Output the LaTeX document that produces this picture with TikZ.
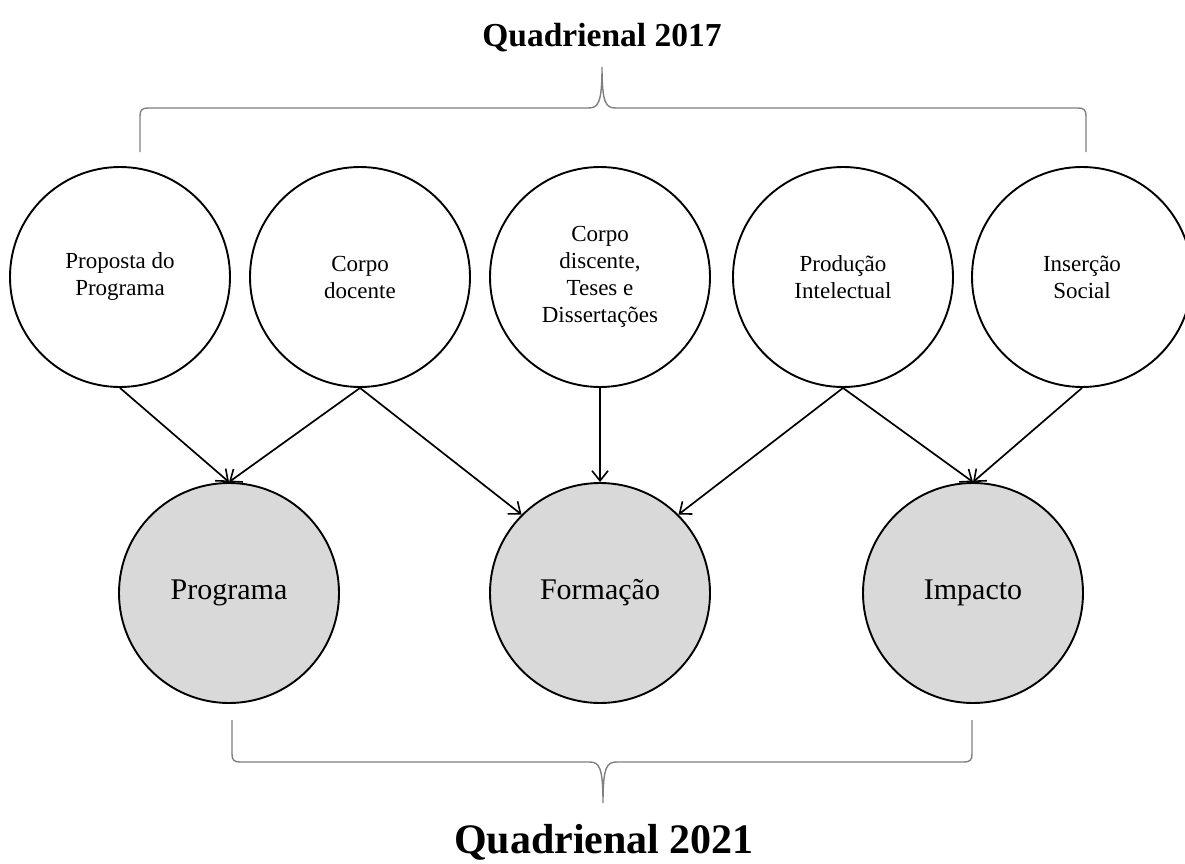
\documentclass[tikz,border=0pt]{standalone}
\usepackage{fontspec}
\setmainfont{Liberation Serif}
\usetikzlibrary{arrows.meta}
\begin{document}
\begin{tikzpicture}[x=1pt,y=-1pt,
  quesito/.style={circle,draw=black,line width=1.9pt,fill=white,minimum size=220pt,
    inner sep=0pt,align=center,font=\fontsize{23}{27}\selectfont},
  eixo/.style={circle,draw=black,line width=1.9pt,fill=black!15,minimum size=220pt,
    inner sep=0pt,align=center,font=\fontsize{30}{34}\selectfont},
  liga/.style={line width=1.7pt,-{Straight Barb[length=10pt,width=16pt,line width=1.6pt]}},
  chave/.style={draw=black!50,line width=1.4pt},
  titulo/.style={anchor=base,font=\bfseries\fontsize{33.5}{38}\selectfont}]
\useasboundingbox (0,0) rectangle (1185,864);

% top-level headings
\node[titulo] (t17) at (602,47) {Quadrienal 2017};
\node[titulo,font=\bfseries\fontsize{42}{46}\selectfont] (t21) at (604,853) {Quadrienal 2021};

% upper brace
\coordinate (b1l) at (140,152);
\coordinate (b1r) at (1086,152);
\coordinate (b1t) at (602,67);
\draw[chave] (b1l) -- (140,116) .. controls (140,110) and (142,108) .. (148,108)
  -- (588,108) .. controls (598,108) and (602,104) .. (b1t)
  .. controls (602,104) and (606,108) .. (616,108)
  -- (1078,108) .. controls (1084,108) and (1086,110) .. (1086,116) -- (b1r);

% lower brace
\coordinate (b2l) at (232,720);
\coordinate (b2r) at (972,720);
\coordinate (b2t) at (603,803);
\draw[chave] (b2l) -- (232,754) .. controls (232,760) and (234,762) .. (240,762)
  -- (589,762) .. controls (599,762) and (603,766) .. (b2t)
  .. controls (603,766) and (607,762) .. (617,762)
  -- (964,762) .. controls (970,762) and (972,760) .. (972,754) -- (b2r);

% 2017 evaluation items
\node[quesito] (c1) at (120,277) {Proposta do\\Programa};
\node[quesito] (c2) at (360,277) {Corpo\\docente};
\node[quesito] (c3) at (600,277) {Corpo\\discente,\\Teses e\\Dissertações};
\node[quesito] (c4) at (843,277) {Produção\\Intelectual};
\node[quesito] (c5) at (1082,277) {Inserção\\Social};

% 2021 dimensions
\node[eixo] (p) at (229,593) {Programa};
\node[eixo] (f) at (600,593) {Formação};
\node[eixo] (i) at (973,593) {Impacto};

% mapping between items and dimensions
\draw[liga] (c1.south) -- (p.north);
\draw[liga] (c2.south) -- (p.north);
\draw[liga] (c2.south) -- (f.135);
\draw[liga] (c3.south) -- (f.north);
\draw[liga] (c4.south) -- (f.45);
\draw[liga] (c4.south) -- (i.north);
\draw[liga] (c5.south) -- (i.north);
\end{tikzpicture}
\end{document}
